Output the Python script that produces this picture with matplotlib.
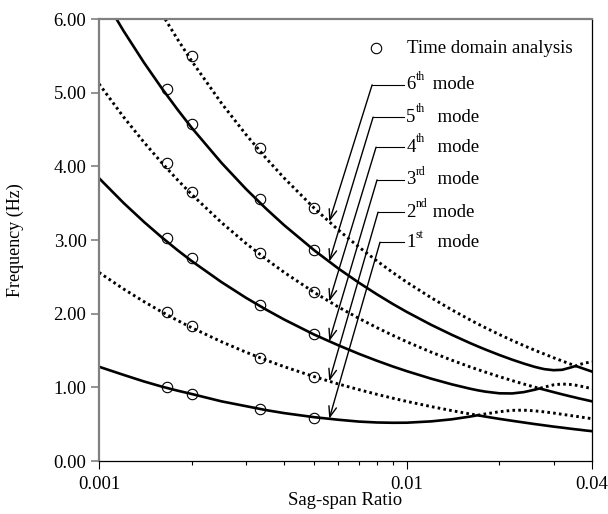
import numpy as np
import matplotlib
matplotlib.use("Agg")
import matplotlib.pyplot as plt
from matplotlib.ticker import FixedLocator, NullFormatter

plt.rcParams['font.family'] = ['Liberation Serif', 'DejaVu Serif']
plt.rcParams['mathtext.fontset'] = 'custom'
plt.rcParams['mathtext.rm'] = 'Liberation Serif'
plt.rcParams['mathtext.it'] = 'Liberation Serif:italic'

# sag-span ratio and natural frequencies (Hz) of modes 1-6
sag = [0.001, 0.0012, 0.0014, 0.0016, 0.0018, 0.002, 0.0025, 0.003, 0.0035, 0.004,
       0.005, 0.006, 0.007, 0.008, 0.009, 0.010, 0.012, 0.014, 0.016, 0.017,
       0.018, 0.020, 0.022, 0.024, 0.026, 0.027, 0.028, 0.030, 0.032, 0.034,
       0.0354, 0.036, 0.038, 0.040]
f1 = [1.28, 1.17, 1.08, 1.01, 0.955, 0.91, 0.81, 0.745, 0.69, 0.65,
      0.595, 0.56, 0.535, 0.523, 0.519, 0.52, 0.538, 0.566, 0.602, 0.621,
      0.603, 0.572, 0.546, 0.523, 0.502, 0.493, 0.484, 0.467, 0.453, 0.439,
      0.43, 0.427, 0.415, 0.405]
f2 = [2.56, 2.337, 2.164, 2.024, 1.908, 1.81, 1.619, 1.478, 1.368, 1.28,
      1.145, 1.045, 0.968, 0.905, 0.853, 0.809, 0.739, 0.684, 0.64, 0.621,
      0.639, 0.669, 0.688, 0.69, 0.681, 0.674, 0.667, 0.651, 0.634, 0.618,
      0.607, 0.603, 0.588, 0.574]
f3 = [3.84, 3.506, 3.246, 3.036, 2.862, 2.715, 2.429, 2.217, 2.053, 1.92,
      1.717, 1.57, 1.454, 1.361, 1.284, 1.22, 1.118, 1.041, 0.983, 0.96,
      0.942, 0.919, 0.917, 0.935, 0.967, 0.985, 0.968, 0.935, 0.905, 0.878,
      0.861, 0.853, 0.831, 0.81]
f4 = [5.12, 4.674, 4.327, 4.048, 3.816, 3.62, 3.238, 2.956, 2.737, 2.56,
      2.29, 2.09, 1.935, 1.81, 1.707, 1.619, 1.478, 1.369, 1.28, 1.242,
      1.207, 1.145, 1.092, 1.045, 1.004, 0.985, 1.003, 1.034, 1.045, 1.039,
      1.029, 1.024, 1.003, 0.982]
f5 = [6.4, 5.843, 5.409, 5.06, 4.771, 4.525, 4.048, 3.695, 3.421, 3.2,
      2.862, 2.612, 2.419, 2.263, 2.133, 2.024, 1.849, 1.714, 1.604, 1.557,
      1.514, 1.439, 1.376, 1.323, 1.279, 1.262, 1.247, 1.233, 1.238, 1.268,
      1.29, 1.28, 1.246, 1.214]
f6 = [7.68, 7.011, 6.491, 6.072, 5.725, 5.431, 4.858, 4.434, 4.105, 3.84,
      3.434, 3.135, 2.903, 2.716, 2.56, 2.428, 2.217, 2.053, 1.92, 1.862,
      1.81, 1.717, 1.637, 1.567, 1.506, 1.478, 1.452, 1.402, 1.358, 1.317,
      1.29, 1.304, 1.331, 1.345]

# time domain analysis results
td_sag = [0.001667, 0.002, 0.003333, 0.005]
td1 = [1.01, 0.91, 0.70, 0.58]
td2 = [2.02, 1.83, 1.40, 1.14]
td3 = [3.03, 2.75, 2.12, 1.72]
td4 = [4.05, 3.65, 2.83, 2.29]
td5 = [5.05, 4.58, 3.55, 2.87]
td6 = [np.nan, 5.50, 4.25, 3.43]

mode_num = ["1", "2", "3", "4", "5", "6"]
mode_sup = ["st", "nd", "rd", "th", "th", "th"]

fig = plt.figure(figsize=(6.08, 5.14), dpi=100)
ax = fig.add_axes([0.1628, 0.1031, 0.8109, 0.8599])

curves = [f1, f2, f3, f4, f5, f6]
for i, f in enumerate(curves):
    if i % 2 == 0:
        ax.plot(sag, f, color="black", lw=1.9, solid_joinstyle="round")
    else:
        ax.plot(sag, f, color="black", lw=2.1, linestyle=(0, (0.9, 1.1)))

for td in [td1, td2, td3, td4, td5, td6]:
    ax.plot(td_sag, td, "o", ms=7.5, mfc="none", mec="black", mew=0.8)

ax.set_xscale("log")
ax.set_xlim(0.001, 0.04)
ax.set_ylim(0, 6)
ax.xaxis.set_major_locator(FixedLocator([0.001, 0.01, 0.04]))
ax.set_xticklabels(["0.001", "0.01", "0.04"])
ax.xaxis.set_minor_locator(FixedLocator([0.002, 0.003, 0.004, 0.005, 0.006, 0.007,
                                         0.008, 0.009, 0.02, 0.03]))
ax.xaxis.set_minor_formatter(NullFormatter())
ax.set_yticks(np.arange(0, 7, 1))
ax.set_yticklabels(["%.2f" % v for v in np.arange(0, 7, 1)])

ax.tick_params(axis="x", which="major", length=6, width=0.8, pad=5, labelsize=13.5)
ax.tick_params(axis="x", which="minor", length=3, width=0.8)
ax.tick_params(axis="y", which="major", length=6, width=1.2, color="#808080", pad=3, labelsize=13.5)
for s in ["left", "top"]:
    ax.spines[s].set_color("#808080")
    ax.spines[s].set_linewidth(1.6)
for s in ["right", "bottom"]:
    ax.spines[s].set_color("black")
    ax.spines[s].set_linewidth(0.9)

ax.set_xlabel("Sag-span Ratio", fontsize=13.5)
ax.set_ylabel("Frequency (Hz)", fontsize=13)
ax.xaxis.set_label_coords(0.5, -0.07)
ax.yaxis.set_label_coords(-0.152, 0.5)

# legend entry for the circles
ax.plot([0.562], [0.934], "o", ms=7.5, mfc="none", mec="black", mew=0.8,
        transform=ax.transAxes, clip_on=False)
ax.text(0.625, 0.934, "Time domain analysis", transform=ax.transAxes,
        ha="left", va="center", fontsize=13.5)

# mode labels with leader arrows
label_y = [0.495, 0.563, 0.636, 0.710, 0.778, 0.851]
line_x0 = [0.570, 0.566, 0.564, 0.562, 0.556, 0.554]
gap = ["  ", " ", "  ", "  ", "  ", " "]
tip_x = 0.0056
for i in range(6):
    tip_y = np.interp(np.log10(tip_x), np.log10(sag), curves[i])
    ax.plot([line_x0[i], 0.619], [label_y[i], label_y[i]], color="black", lw=0.8,
            transform=ax.transAxes)
    ax.annotate("", xy=(tip_x, tip_y), xycoords="data",
                xytext=(line_x0[i], label_y[i]), textcoords="axes fraction",
                arrowprops=dict(arrowstyle="->,head_length=0.75,head_width=0.28",
                                color="black", lw=1.0, shrinkA=0, shrinkB=0))
    t = ax.text(0.623, label_y[i], mode_num[i], transform=ax.transAxes,
                ha="left", va="center", fontsize=13.5)
    ax.annotate(mode_sup[i], xy=(1, 0.6), xycoords=t, ha="left", va="bottom",
                fontsize=8.5)
    ax.annotate(gap[i] + "mode", xy=(1, 0.5), xycoords=t, xytext=(9, 0),
                textcoords="offset points", ha="left", va="center", fontsize=13.5)

fig.savefig("out.png", dpi=100)
